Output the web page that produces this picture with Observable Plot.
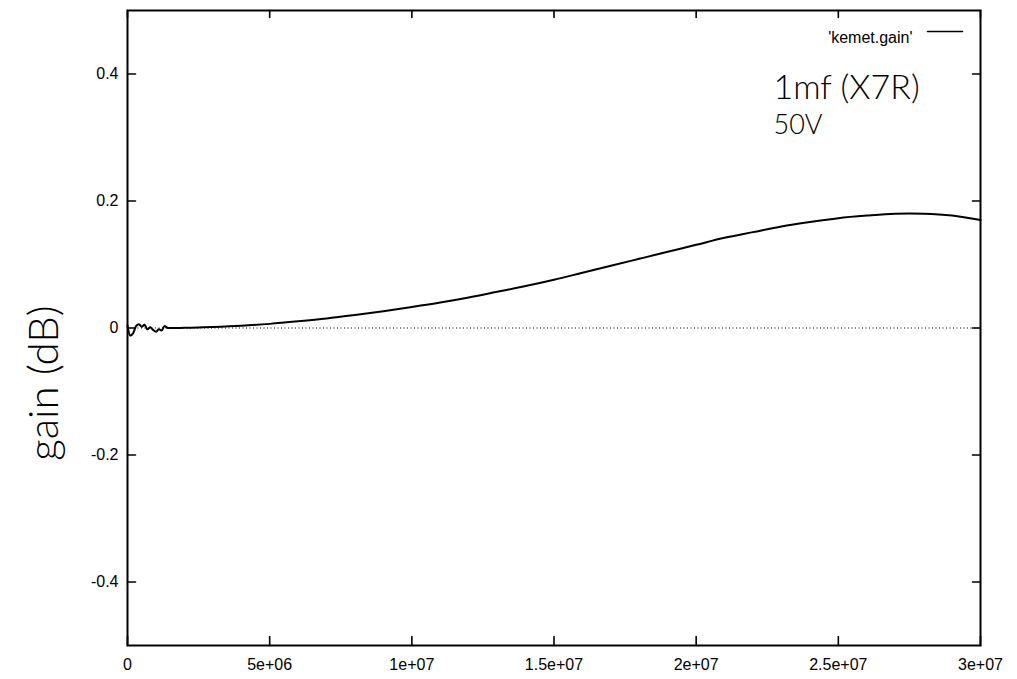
<!DOCTYPE html>
<html><head><meta charset="utf-8">
<script src="https://cdn.jsdelivr.net/npm/d3@7"></script>
<script src="https://cdn.jsdelivr.net/npm/@observablehq/plot@0.6"></script>
<style>
html,body{margin:0;padding:0;background:#fff;}
#chart{width:1017px;height:679px;}
</style></head><body><div id="chart"></div>
<script>
const freqHz = [0,1e5,2e5,3e5,4e5,5e5,6e5,7e5,8e5,9e5,1.0e6,1.1e6,1.2e6,1.3e6,1.4e6,1.5e6,
  2e6,2.5e6,3e6,4e6,5e6,6e6,7e6,8e6,9e6,1e7,1.1e7,1.2e7,1.3e7,1.4e7,1.5e7,1.6e7,1.7e7,1.8e7,1.9e7,
  2e7,2.1e7,2.2e7,2.3e7,2.4e7,2.5e7,2.6e7,2.7e7,2.8e7,2.9e7,3e7];
const gainDb = [0.004,-0.012,-0.008,0.003,0.006,0.002,0.005,-0.002,0.001,-0.003,-0.006,-0.002,-0.004,0.003,0.0005,0,
  0.0003,0.0008,0.0015,0.0035,0.0065,0.0105,0.015,0.0205,0.0265,0.033,0.040,0.048,0.057,0.066,0.076,0.087,0.098,0.109,0.120,
  0.131,0.142,0.151,0.160,0.167,0.173,0.177,0.180,0.180,0.177,0.170];
const xTickValues = [0,5e6,1e7,1.5e7,2e7,2.5e7,3e7];
const xTickLabels = ["0","5e+06","1e+07","1.5e+07","2e+07","2.5e+07","3e+07"];
const yTickValues = [-0.4,-0.2,0,0.2,0.4];
const yTickLabels = ["-0.4","-0.2","0","0.2","0.4"];
const seriesName = "'kemet.gain'";
const noteLine1 = "1mf (X7R)";
const noteLine2 = "50V";
const yTitle = "gain (dB)";

const data = freqHz.map((f, i) => ({f, g: gainDb[i]}));
const hand = "Lato, 'DejaVu Sans', sans-serif";
const xFmt = d => xTickLabels[xTickValues.indexOf(d)];
const yFmt = d => yTickLabels[yTickValues.indexOf(d)];
const tickStyle = {shape: "spike", r: 0, stroke: "#000", strokeWidth: 1.6, anchor: "start"};

const plot = Plot.plot({
  width: 1017, height: 679,
  marginLeft: 127, marginRight: 37, marginTop: 10, marginBottom: 34,
  style: {fontFamily: "'Liberation Sans', Arial, sans-serif", fontSize: "16px", color: "#000", background: "#fff"},
  x: {domain: [0, 3e7]},
  y: {domain: [-0.5, 0.5]},
  marks: [
    Plot.ruleY([0], {stroke: "#000", strokeWidth: 1, strokeDasharray: "1,2.5"}),
    Plot.line(data, {x: "f", y: "g", stroke: "#000", strokeWidth: 2, curve: "catmull-rom"}),
    Plot.frame({stroke: "#000", strokeWidth: 2}),
    Plot.axisX({anchor: "bottom", ticks: xTickValues, tickSize: 0, tickPadding: 13, tickFormat: xFmt, label: null, fontSize: 16}),
    Plot.axisY({anchor: "left", ticks: yTickValues, tickSize: 0, tickPadding: 9, tickFormat: yFmt, label: null, fontSize: 16}),
    Plot.vector(xTickValues, {x: d => d, frameAnchor: "bottom", length: 9, rotate: 0, ...tickStyle}),
    Plot.vector(xTickValues, {x: d => d, frameAnchor: "top", length: 7, rotate: 180, ...tickStyle}),
    Plot.vector(yTickValues, {y: d => d, frameAnchor: "left", length: 8, rotate: 90, ...tickStyle}),
    Plot.vector(yTickValues, {y: d => d, frameAnchor: "right", length: 8, rotate: -90, ...tickStyle}),
    Plot.text([seriesName], {frameAnchor: "top-right", text: d => d, dx: -68, dy: 21, textAnchor: "end", fontSize: 16}),
    Plot.vector([seriesName], {frameAnchor: "top-right", dx: -18, dy: 21, rotate: -90, length: 35, anchor: "start", shape: "spike", r: 0, stroke: "#000", strokeWidth: 1.5}),
    Plot.text([noteLine1], {frameAnchor: "top-right", text: d => d, dx: -207, dy: 64, textAnchor: "start", fontSize: 34, fontFamily: hand, fontWeight: 300}),
    Plot.text([noteLine2], {frameAnchor: "top-right", text: d => d, dx: -207, dy: 104, textAnchor: "start", fontSize: 27, fontFamily: hand, fontWeight: 300}),
    Plot.text([yTitle], {frameAnchor: "left", text: d => d, dx: -83, dy: 55, rotate: -90, textAnchor: "middle", fontSize: 42, fontFamily: hand, fontWeight: 300})
  ]
});
document.getElementById("chart").appendChild(plot);
</script></body></html>
